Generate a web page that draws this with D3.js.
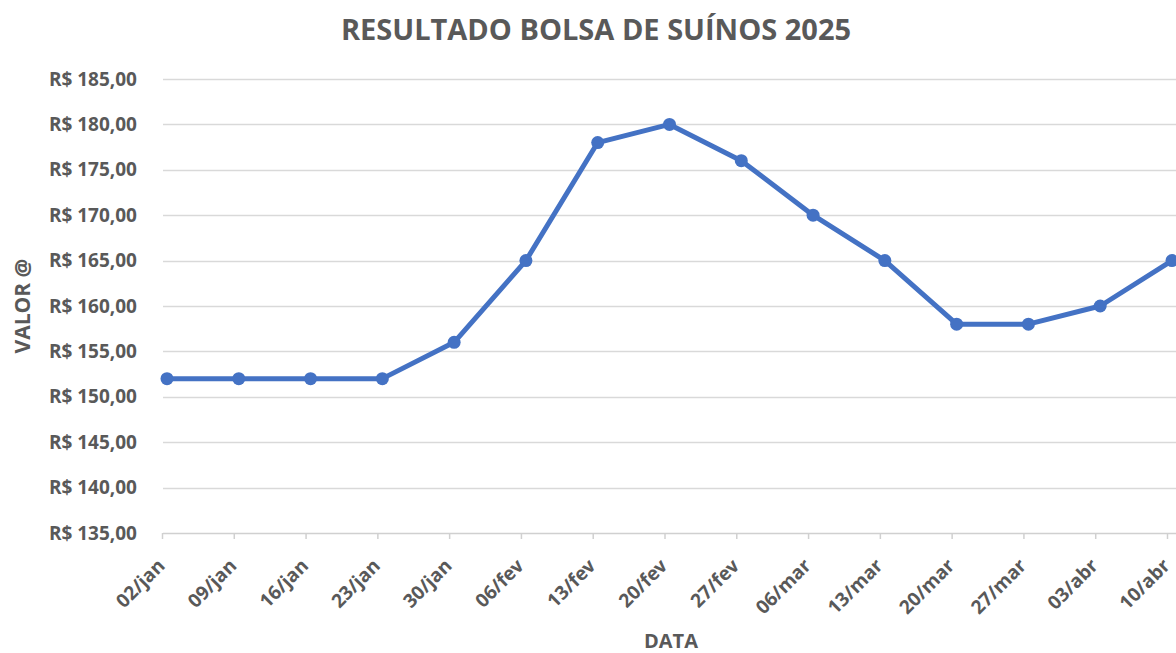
<!DOCTYPE html>
<html>
<head>
<meta charset="utf-8">
<title>RESULTADO BOLSA DE SUÍNOS 2025</title>
<script src="https://d3js.org/d3.v7.min.js"></script>
<style>
    body { margin: 0; background: #ffffff; }
    svg { display: block; font-family: "Open Sans", "Noto Sans", sans-serif; }
    .grid line { stroke: #d9d9d9; stroke-width: 1.5; }
    .lbl { fill: #595959; font-weight: 700; }
</style>
</head>
<body>
<div id="chart"></div>
<script>
// dados
var datas = ["02/jan", "09/jan", "16/jan", "23/jan", "30/jan", "06/fev", "13/fev", "20/fev",
             "27/fev", "06/mar", "13/mar", "20/mar", "27/mar", "03/abr", "10/abr"]
var valores = [152, 152, 152, 152, 156, 165, 178, 180, 176, 170, 165, 158, 158, 160, 165]
var yTicks = [135, 140, 145, 150, 155, 160, 165, 170, 175, 180, 185]

var W = 1176, H = 653
var margin = {top: 79, left: 163, right: 0, bottom: 120}

var svg = d3.select("#chart").append("svg")
    .attr("width", W)
    .attr("height", H)

// a última data fica colada na borda direita, como no original
var x = d3.scalePoint()
    .domain(datas)
    .range([167, 1172])

var y = d3.scaleLinear()
    .domain([135, 185])
    .range([533, 79])

var fmt = function(v) { return "R$ " + v.toFixed(2).replace(".", ",") }

// linhas de grade
svg.append("g").attr("class", "grid")
    .selectAll("line")
    .data(yTicks.slice(1))
    .enter().append("line")
    .attr("x1", margin.left)
    .attr("x2", W)
    .attr("y1", function(d) { return Math.round(y(d)) + 0.5 })
    .attr("y2", function(d) { return Math.round(y(d)) + 0.5 })

// eixo y
svg.append("g")
    .selectAll("text")
    .data(yTicks)
    .enter().append("text")
    .attr("class", "lbl")
    .attr("x", 137)
    .attr("y", function(d) { return y(d) })
    .attr("dy", "0.35em")
    .attr("text-anchor", "end")
    .style("font-size", "19px")
    .text(fmt)

// eixo x
svg.append("line")
    .attr("x1", margin.left).attr("x2", W)
    .attr("y1", 533.5).attr("y2", 533.5)
    .attr("stroke", "#d0d0d0").attr("stroke-width", 1.5)

svg.append("g")
    .selectAll("line")
    .data(datas)
    .enter().append("line")
    .attr("x1", function(d) { return x(d) - 4.5 })
    .attr("x2", function(d) { return x(d) - 4.5 })
    .attr("y1", 533).attr("y2", 539)
    .attr("stroke", "#d0d0d0").attr("stroke-width", 1.5)

svg.append("g")
    .selectAll("text")
    .data(datas)
    .enter().append("text")
    .attr("class", "lbl")
    .attr("text-anchor", "end")
    .style("font-size", "19px")
    .attr("transform", function(d) { return "translate(" + (x(d) - 1) + ",567) rotate(-45)" })
    .text(function(d) { return d })

// linha
var line = d3.line()
    .x(function(d, i) { return x(datas[i]) })
    .y(function(d) { return y(d) })

svg.append("path")
    .datum(valores)
    .attr("d", line)
    .attr("fill", "none")
    .attr("stroke", "#4472c4")
    .attr("stroke-width", 5)
    .attr("stroke-linejoin", "round")

svg.append("g")
    .selectAll("circle")
    .data(valores)
    .enter().append("circle")
    .attr("cx", function(d, i) { return x(datas[i]) })
    .attr("cy", function(d) { return y(d) })
    .attr("r", 6.5)
    .attr("fill", "#4472c4")

// títulos
svg.append("text")
    .attr("class", "lbl")
    .attr("x", 596).attr("y", 40)
    .attr("text-anchor", "middle")
    .style("font-size", "29px")
    .text("RESULTADO BOLSA DE SUÍNOS 2025")

svg.append("text")
    .attr("class", "lbl")
    .attr("transform", "translate(30,306) rotate(-90)")
    .attr("text-anchor", "middle")
    .style("font-size", "21px")
    .text("VALOR @")

svg.append("text")
    .attr("class", "lbl")
    .attr("x", 671).attr("y", 648)
    .attr("text-anchor", "middle")
    .style("font-size", "20px")
    .text("DATA")
</script>
</body>
</html>
